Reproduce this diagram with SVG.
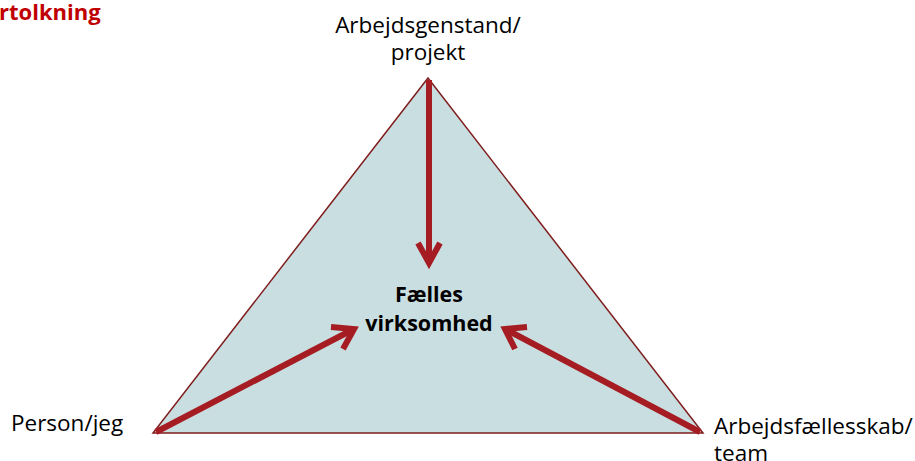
<svg xmlns="http://www.w3.org/2000/svg" width="915" height="461" viewBox="0 0 915 461">
<style>
text{font-family:"Open Sans","Noto Sans","DejaVu Sans",sans-serif;font-size:22.5px;fill:#000}
.b{font-weight:bold;font-size:21.5px}
.title{fill:#C00000;font-weight:bold;font-size:22px}
.arr{stroke:#A61C23;stroke-width:6;fill:none;stroke-linecap:butt;stroke-linejoin:miter}
</style>
<rect width="915" height="461" fill="#fff"/>
<g id="triangle">
<polygon points="428,78 153,433 703,433" fill="#C9DEE0" stroke="#7F1D1D" stroke-width="1.5"/>
</g>
<g id="connectors">
<path class="arr" d="M429,80 L429,262"/>
<path class="arr" d="M418,243 L429,263 L440,243"/>
<path class="arr" d="M156,432 L352,330"/>
<path class="arr" d="M331,327 L354,329 L343,349"/>
<path class="arr" d="M700,432 L507,330"/>
<path class="arr" d="M527,327 L505,329 L515,349"/>
</g>
<g id="title"><text class="title" x="-1" y="20">rtolkning</text></g>
<g id="node-top"><text x="428" y="33" text-anchor="middle">Arbejdsgenstand/</text><text x="428" y="60" text-anchor="middle">projekt</text></g>
<g id="node-center"><text class="b" x="429" y="302" text-anchor="middle">Fælles</text><text class="b" x="429" y="331" text-anchor="middle">virksomhed</text></g>
<g id="node-left"><text x="11" y="431">Person/jeg</text></g>
<g id="node-right"><text x="714" y="434">Arbejdsfællesskab/</text><text x="714" y="461">team</text></g>
</svg>
